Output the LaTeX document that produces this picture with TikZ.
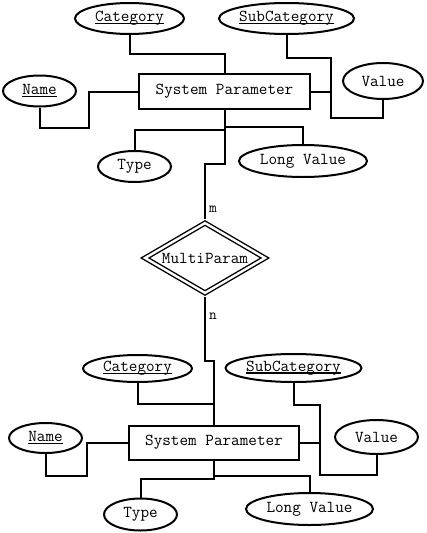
\documentclass[tikz,border=0pt]{standalone}
\usepackage{fontspec}
\usepackage{tikz}
\usetikzlibrary{positioning, calc, shapes.geometric}
\newcommand{\clave}[1]{\setbox0\hbox{#1}\rlap{\rule[-2.6pt]{\wd0}{1.4pt}}\box0}

\begin{document}
\begin{tikzpicture}[x=1pt, y=-1pt, line width=2pt,
    font=\ttfamily\fontsize{16.7}{18}\selectfont,
    atributo/.style={draw, ellipse, inner sep=0pt},
    entidad/.style={draw, rectangle, inner sep=0pt, minimum width=171pt, minimum height=35pt},
    relacion/.style={draw, diamond, double, line width=1.4pt, double distance=2.4pt,
      inner sep=0pt, aspect=1.69, minimum width=122pt, minimum height=72pt, outer sep=2.6pt},
    card/.style={inner sep=3pt, font=\ttfamily\fontsize{15}{16}\selectfont}]
  \useasboundingbox (0,0) rectangle (426,533);

  % Entidad superior y sus atributos
  \node[entidad] (sp1) at (224.5,91.5) {System Parameter};
  \node[atributo, minimum width=109pt, minimum height=31pt] (cat1) at (129.5,18.5) {\clave{Category}};
  \node[atributo, minimum width=135pt, minimum height=31pt] (sub1) at (286.5,18.5) {\clave{SubCategory}};
  \node[atributo, minimum width=80pt, minimum height=36pt] (val1) at (383,81) {Value};
  \node[atributo, minimum width=73pt, minimum height=31pt] (name1) at (39.5,91) {\clave{Name}};
  \node[atributo, minimum width=73pt, minimum height=31pt] (type1) at (134.5,166.5) {Type};
  \node[atributo, minimum width=128pt, minimum height=32pt] (lv1) at (303,161) {Long Value};
  \coordinate (j1) at ($(sp1.east)+(20,0)$);

  % Relacion
  \node[relacion] (rel) at (205,258) {MultiParam};

  % Entidad inferior y sus atributos
  \node[entidad, minimum width=170pt, minimum height=34pt] (sp2) at (214,442.5) {System Parameter};
  \node[atributo, minimum width=109pt, minimum height=27pt] (cat2) at (137.5,368.5) {\clave{Category}};
  \node[atributo, minimum width=136pt, minimum height=28pt] (sub2) at (293.5,368) {\clave{SubCategory}};
  \node[atributo, minimum width=83pt, minimum height=34pt] (val2) at (376.5,437) {Value};
  \node[atributo, minimum width=73pt, minimum height=30pt] (name2) at (45.5,438) {\clave{Name}};
  \node[atributo, minimum width=73pt, minimum height=32pt] (type2) at (140.5,514.5) {Type};
  \node[atributo, minimum width=127pt, minimum height=32pt] (lv2) at (309.5,509) {Long Value};
  \coordinate (j2) at ($(sp2.east)+(20,0)$);

  % Conectores de arriba
  \draw (cat1.south) |- ($(sp1.north)+(0,-19)$) -- (sp1.north);
  \draw (sub1.south) |- ($(j1)+(0,-34)$) -- (j1);
  \draw (val1.south) |- ($(j1)+(0,26)$) -- (j1) -- (sp1.east);
  \draw (name1.south) |- ($(sp1.west)+(-49,36)$) |- (sp1.west);
  \draw (type1.north) |- ($(sp1.south)+(0,20)$);
  \draw (lv1.north) |- ($(sp1.south)+(0,17)$);
  \draw (sp1.south) |- ($(rel.north)+(0,-55)$) -- node[card, right, pos=0.81] {m} (rel.north);

  % Conectores de abajo
  \draw (rel.south) -- node[card, right, pos=0.3] {n} ++(0,64) -| (sp2.north);
  \draw (cat2.south) |- ($(sp2.north)+(0,-21)$);
  \draw (sub2.south) |- ($(j2)+(0,-38)$) -- (j2);
  \draw (val2.south) |- ($(j2)+(0,32)$) -- (j2) -- (sp2.east);
  \draw (name2.south) |- ($(sp2.west)+(-41,33)$) |- (sp2.west);
  \draw (type2.north) |- ($(sp2.south)+(0,18)$) -- (sp2.south);
  \draw (lv2.north) |- ($(sp2.south)+(0,15)$);
\end{tikzpicture}
\end{document}
